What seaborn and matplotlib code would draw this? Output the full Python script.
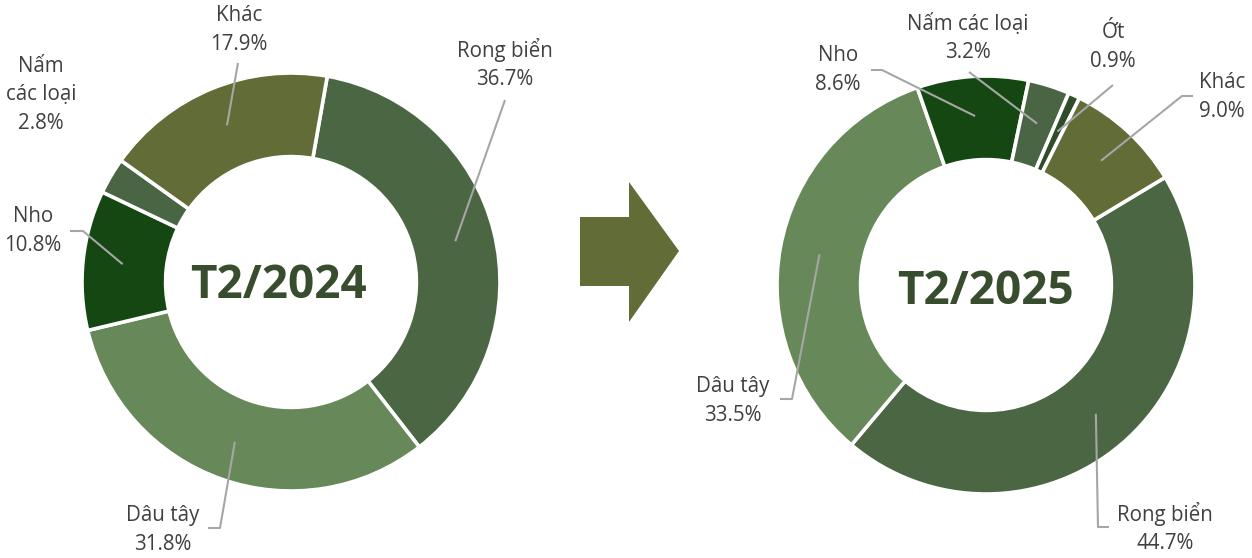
import numpy as np
import matplotlib
matplotlib.use("Agg")
import matplotlib.pyplot as plt
from matplotlib.patches import Polygon
import seaborn as sns

# ---------------- data ----------------
labels_2024 = ["Rong biển", "Dâu tây", "Nho", "Nấm các loại", "Khác"]
values_2024 = [36.7, 31.8, 10.8, 2.8, 17.9]
texts_2024 = ["Rong biển\n36.7%", "Dâu tây\n31.8%", "Nho\n10.8%", "Nấm\ncác loại\n2.8%", "Khác\n17.9%"]

labels_2025 = ["Rong biển", "Dâu tây", "Nho", "Nấm các loại", "Ớt", "Khác"]
values_2025 = [44.7, 33.5, 8.6, 3.2, 0.9, 9.0]
texts_2025 = ["Rong biển\n44.7%", "Dâu tây\n33.5%", "Nho\n8.6%", "Nấm các loại\n3.2%", "Ớt\n0.9%", "Khác\n9.0%"]

title_2024 = "T2/2024"
title_2025 = "T2/2025"

# ---------------- style ----------------
sns.set_theme(style="white")
plt.rcParams["font.family"] = ["Open Sans", "DejaVu Sans"]

colors = {
    "Rong biển": "#4B6642",
    "Dâu tây": "#678858",
    "Nho": "#154713",
    "Nấm các loại": "#4A6543",
    "Ớt": "#304D2A",
    "Khác": "#616C37",
}
TEXT_C = "#404040"
LINE_C = "#A6A6A6"
TITLE_C = "#384D2E"

W, H = 1252, 558
fig = plt.figure(figsize=(W / 100, H / 100), dpi=100)
ax = fig.add_axes([0, 0, 1, 1])


def py(y):
    return H - y


layout_2024 = {
    "center": (291, 282), "radius": 209, "start": 80,
    "title_xy": (278, 285),
    "labels": {
        "Rong biển": ((505, 64), [(505, 100)]),
        "Dâu tây": ((163, 530), [(208, 528), (220, 528)]),
        "Nho": ((33, 231), [(70, 231), (83, 231)]),
        "Nấm các loại": ((41, 95), None),
        "Khác": ((239, 30), [(238, 63)]),
    },
}
layout_2025 = {
    "center": (986, 285), "radius": 209, "start": 31,
    "title_xy": (985, 291),
    "labels": {
        "Rong biển": ((1165, 528), [(1109, 527), (1098, 527)]),
        "Dâu tây": ((733, 401), [(780, 399), (792, 399)]),
        "Nho": ((838, 70), [(871, 70), (882, 70)]),
        "Nấm các loại": ((968, 38), [(969, 72)]),
        "Ớt": ((1113, 47), [(1113, 85)]),
        "Khác": ((1222, 97), [(1193, 96), (1182, 96)]),
    },
}


def draw_donut(labels, values, texts, lay, title):
    cx, cy = lay["center"]
    R = lay["radius"]
    wedges, _ = ax.pie(
        values,
        colors=[colors[l] for l in labels],
        startangle=lay["start"],
        counterclock=False,
        center=(cx, py(cy)),
        radius=R,
        wedgeprops=dict(width=R * 0.4, edgecolor="white", linewidth=2.6),
        normalize=True,
    )
    for w, lab, txt in zip(wedges, labels, texts):
        (tx, ty), path = lay["labels"][lab]
        ax.text(tx, py(ty), txt, ha="center", va="center", fontsize=14.8,
                color=TEXT_C, linespacing=1.45)
        if path is not None:
            mid = np.deg2rad((w.theta1 + w.theta2) / 2)
            ex = cx + 0.81 * R * np.cos(mid)
            ey = py(cy) + 0.81 * R * np.sin(mid)
            xs = [p[0] for p in path] + [ex]
            ys = [py(p[1]) for p in path] + [ey]
            ax.plot(xs, ys, color=LINE_C, lw=1.5, solid_capstyle="butt")
    tx, ty = lay["title_xy"]
    ax.text(tx, py(ty), title, ha="center", va="center", fontsize=33,
            fontweight="bold", color=TITLE_C)


draw_donut(labels_2024, values_2024, texts_2024, layout_2024, title_2024)
draw_donut(labels_2025, values_2025, texts_2025, layout_2025, title_2025)

# arrow between the donuts
arrow_pts = [(580, 217), (629, 217), (629, 182), (679, 251), (629, 322), (629, 286), (580, 286)]
ax.add_patch(Polygon([(x, py(y)) for x, y in arrow_pts], closed=True,
                     facecolor="#616C37", edgecolor="none"))

ax.set_xlim(0, W)
ax.set_ylim(0, H)
ax.set_aspect("auto")
ax.axis("off")

fig.savefig("out.png", dpi=100, facecolor="white")
